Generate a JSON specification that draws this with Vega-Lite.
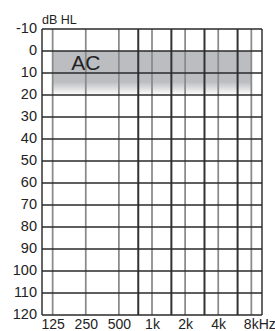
{
  "$schema": "https://vega.github.io/schema/vega-lite/v6.json",
  "autosize": "none",
  "width": 220,
  "height": 286,
  "padding": {"left": 42, "top": 29, "right": 13, "bottom": 16},
  "background": "white",
  "config": {
    "view": {"stroke": null},
    "font": "Liberation Sans, Arial, sans-serif",
    "axis": {"labelOverlap": false, "labelFlush": false}
  },
  "datasets": {
    "band": [{"f1": 125, "f2": 8000, "d1": 0, "d2": 20}],
    "vlines": [
      {"f": 100, "k": "border"},
      {"f": 125, "k": "oct"},
      {"f": 250, "k": "oct"},
      {"f": 500, "k": "oct"},
      {"f": 750, "k": "half"},
      {"f": 1000, "k": "oct"},
      {"f": 1500, "k": "half"},
      {"f": 2000, "k": "oct"},
      {"f": 3000, "k": "half"},
      {"f": 4000, "k": "oct"},
      {"f": 6000, "k": "half"},
      {"f": 8000, "k": "oct"},
      {"f": 10000, "k": "border"}
    ],
    "hlines": [
      {"db": -10}, {"db": 0}, {"db": 10}, {"db": 20}, {"db": 30}, {"db": 40}, {"db": 50},
      {"db": 60}, {"db": 70}, {"db": 80}, {"db": 90}, {"db": 100}, {"db": 110}, {"db": 120}
    ],
    "labels": [{"f": 250, "db": 5, "t": "AC"}],
    "unit": [{"f": 100, "db": -10, "t": "dB HL"}]
  },
  "layer": [
    {
      "data": {"name": "band"},
      "mark": {
        "type": "rect",
        "fill": {
          "gradient": "linear", "x1": 0, "y1": 0, "x2": 0, "y2": 1,
          "stops": [
            {"offset": 0, "color": "#bcbdc1"},
            {"offset": 0.7, "color": "#bcbdc1"},
            {"offset": 1, "color": "#ffffff"}
          ]
        }
      },
      "encoding": {
        "x": {
          "field": "f1", "type": "quantitative",
          "scale": {"type": "log", "domain": [100, 10000], "nice": false},
          "axis": {
            "orient": "bottom",
            "values": [125, 250, 500, 1000, 2000, 4000, 8000],
            "labelExpr": "datum.value == 125 ? '125' : datum.value == 250 ? '250' : datum.value == 500 ? '500' : datum.value == 8000 ? '8kHz' : (datum.value / 1000) + 'k'",
            "labelAlign": {"condition": {"test": "datum.value == 8000", "value": "left"}, "value": "center"},
            "labelOffset": {"condition": {"test": "datum.value == 8000", "value": -8}, "value": 0},
            "domain": false, "ticks": false, "grid": false,
            "labelFontSize": 14, "labelColor": "#222", "labelPadding": 2,
            "labelOverlap": false, "labelFlush": false, "title": null
          }
        },
        "x2": {"field": "f2"},
        "y": {
          "field": "d1", "type": "quantitative",
          "scale": {"domain": [-10, 120], "reverse": true, "nice": false, "zero": false},
          "axis": null
        },
        "y2": {"field": "d2"}
      }
    },
    {
      "data": {"name": "vlines"},
      "mark": {"type": "rule"},
      "encoding": {
        "x": {"field": "f", "type": "quantitative"},
        "color": {
          "field": "k", "type": "nominal",
          "scale": {"domain": ["border", "oct", "half"], "range": ["#333333", "#8a8a8a", "#333333"]},
          "legend": null
        },
        "strokeWidth": {
          "field": "k", "type": "nominal",
          "scale": {"domain": ["border", "oct", "half"], "range": [1.5, 2, 1.3]},
          "legend": null
        }
      }
    },
    {
      "data": {"name": "hlines"},
      "mark": {"type": "rule", "color": "#2a2a2a", "strokeWidth": 1.5},
      "encoding": {
        "y": {"field": "db", "type": "quantitative"}
      }
    },
    {
      "data": {"name": "hlines"},
      "mark": {"type": "text", "fontSize": 14.5, "color": "#222", "align": "right", "baseline": "middle", "dx": -5},
      "encoding": {
        "x": {"datum": 100},
        "y": {"field": "db", "type": "quantitative"},
        "text": {"field": "db", "type": "nominal"}
      }
    },
    {
      "data": {"name": "unit"},
      "mark": {"type": "text", "fontSize": 12.5, "color": "#222", "align": "left", "baseline": "alphabetic", "dy": -5},
      "encoding": {
        "x": {"field": "f", "type": "quantitative"},
        "y": {"field": "db", "type": "quantitative"},
        "text": {"field": "t"}
      }
    },
    {
      "data": {"name": "labels"},
      "mark": {"type": "text", "fontSize": 21, "color": "#222", "baseline": "alphabetic", "align": "center", "dy": 8},
      "encoding": {
        "x": {"field": "f", "type": "quantitative"},
        "y": {"field": "db", "type": "quantitative"},
        "text": {"field": "t"}
      }
    }
  ]
}
